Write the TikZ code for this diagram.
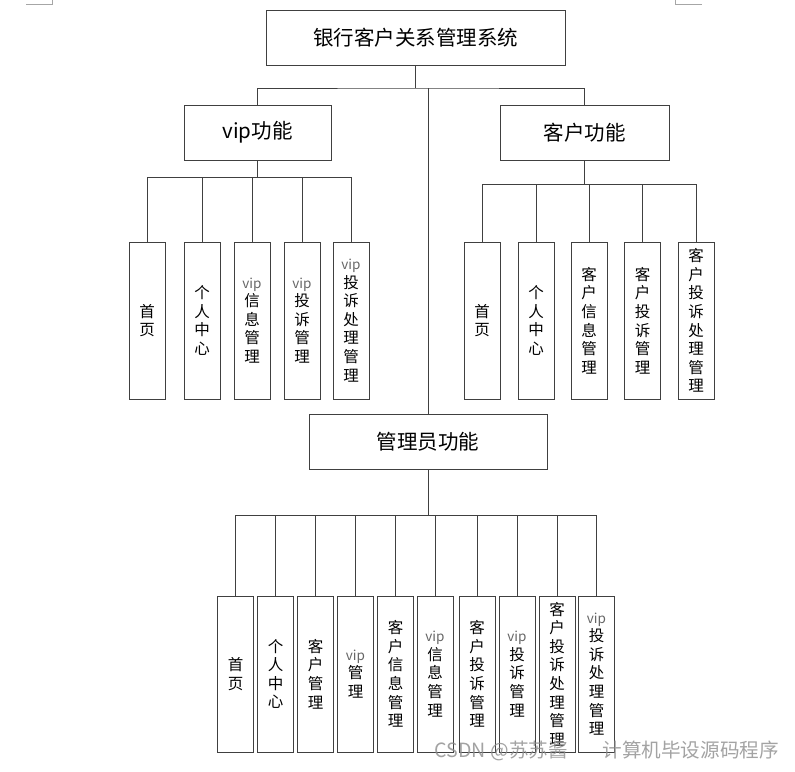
\documentclass[tikz,border=0pt]{standalone}
\usepackage{fontspec}
\setmainfont{Noto Sans CJK SC}
\begin{document}
\begin{tikzpicture}[x=1pt,y=-1pt,
  conn/.style={draw=black!75, line width=0.8pt},
  mainbox/.style={draw=black!75, line width=0.8pt, minimum height=55pt, inner sep=0pt, font=\fontsize{20.5}{24}\selectfont},
  leaf/.style={draw=black!75, line width=0.8pt, minimum width=36pt, inner sep=0pt, align=center, font=\fontsize{15.5}{18.6}\selectfont},
  uleaf/.style={leaf, minimum height=157pt},
  lleaf/.style={leaf, minimum height=156pt},
  cornermark/.style={draw=black!35, line width=0.6pt}
]
\useasboundingbox (0,0) rectangle (795,771);
\newcommand{\vp}{{\color{black!60}\fontsize{13.5}{18.6}\selectfont vip}}

% page corner marks
\draw[cornermark] (26,4) -- (52,4) -- (52,0);
\draw[cornermark] (702,4) -- (675,4) -- (675,0);

% main boxes
\node[mainbox, minimum width=299pt] (top) at (415.5,37.5) {银行客户关系管理系统};
\node[mainbox, minimum width=147pt] (vip) at (257.5,132.5) {vip功能};
\node[mainbox, minimum width=169pt] (cus) at (584.5,132.5) {客户功能};
\node[mainbox, minimum width=238pt] (adm) at (428,441.5) {管理员功能};

% vip leaves
\node[uleaf] (v1) at (147,320.5) {首\\页};
\node[uleaf] (v2) at (202,320.5) {个\\人\\中\\心};
\node[uleaf] (v3) at (252,320.5) {\vp\\信\\息\\管\\理};
\node[uleaf] (v4) at (302,320.5) {\vp\\投\\诉\\管\\理};
\node[uleaf] (v5) at (351,320.5) {\vp\\投\\诉\\处\\理\\管\\理};

% customer leaves
\node[uleaf] (c1) at (482,320.5) {首\\页};
\node[uleaf] (c2) at (536,320.5) {个\\人\\中\\心};
\node[uleaf] (c3) at (589,320.5) {客\\户\\信\\息\\管\\理};
\node[uleaf] (c4) at (642.5,320.5) {客\\户\\投\\诉\\管\\理};
\node[uleaf] (c5) at (696,320.5) {客\\户\\投\\诉\\处\\理\\管\\理};

% admin leaves
\node[lleaf] (a1) at (235.5,674) {首\\页};
\node[lleaf] (a2) at (275.5,674) {个\\人\\中\\心};
\node[lleaf] (a3) at (315.5,674) {客\\户\\管\\理};
\node[lleaf] (a4) at (355.5,674) {\vp\\管\\理};
\node[lleaf] (a5) at (395.5,674) {客\\户\\信\\息\\管\\理};
\node[lleaf] (a6) at (435,674) {\vp\\信\\息\\管\\理};
\node[lleaf] (a7) at (477,674) {客\\户\\投\\诉\\管\\理};
\node[lleaf] (a8) at (517,674) {\vp\\投\\诉\\管\\理};
\node[lleaf] (a9) at (557,674) {客\\户\\投\\诉\\处\\理\\管\\理};
\node[lleaf] (a10) at (596.5,674) {\vp\\投\\诉\\处\\理\\管\\理};

% bus coordinates
\coordinate (tb) at (415.5,88);
\coordinate (vb) at (257.5,177);
\coordinate (cb) at (584.5,184);
\coordinate (ab) at (428,515);

% top level
\draw[conn] (top.south) -- (tb);
\draw[conn] (vip.north) |- (tb) -| (cus.north);
\draw[conn] (adm.north) -- (adm.north |- tb);

% vip bus
\draw[conn] (vip.south) -- (vb);
\draw[conn] (v1.north |- vb) -- (v5.north |- vb);
\foreach \n in {v1,v2,v3,v4,v5} \draw[conn] (\n.north) -- (\n.north |- vb);

% customer bus
\draw[conn] (cus.south) -- (cb);
\draw[conn] (c1.north |- cb) -- (c5.north |- cb);
\foreach \n in {c1,c2,c3,c4,c5} \draw[conn] (\n.north) -- (\n.north |- cb);

% admin bus
\draw[conn] (adm.south) -- (ab);
\draw[conn] (a1.north |- ab) -- (a10.north |- ab);
\foreach \n in {a1,a2,a3,a4,a5,a6,a7,a8,a9,a10} \draw[conn] (\n.north) -- (\n.north |- ab);

% watermark
\node[anchor=east, inner sep=0pt, text=black!45, opacity=0.8, font=\fontsize{19.6}{22}\selectfont] (wm) at (779,751) {\makebox[344pt]{CSDN @苏苏酱\hfill 计算机毕设源码程序}};
\end{tikzpicture}
\end{document}
